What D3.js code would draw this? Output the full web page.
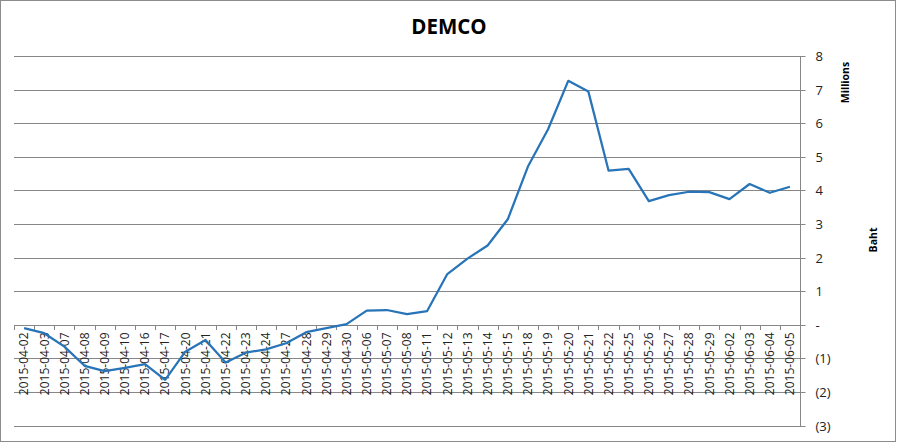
<!DOCTYPE html>
<html>
<head>
<meta charset="utf-8">
<script src="https://cdn.jsdelivr.net/npm/d3@7"></script>
<style>
  html, body { margin: 0; padding: 0; background: #fff; }
  svg { display: block; }
</style>
</head>
<body>
<svg id="chart" width="897" height="442"></svg>
<script>
const title = "DEMCO";
const categories = [
  "2015-04-02","2015-04-03","2015-04-07","2015-04-08","2015-04-09","2015-04-10",
  "2015-04-16","2015-04-17","2015-04-20","2015-04-21","2015-04-22","2015-04-23",
  "2015-04-24","2015-04-27","2015-04-28","2015-04-29","2015-04-30","2015-05-06",
  "2015-05-07","2015-05-08","2015-05-11","2015-05-12","2015-05-13","2015-05-14",
  "2015-05-15","2015-05-18","2015-05-19","2015-05-20","2015-05-21","2015-05-22",
  "2015-05-25","2015-05-26","2015-05-27","2015-05-28","2015-05-29","2015-06-02",
  "2015-06-03","2015-06-04","2015-06-05"
];
// values in millions of Baht
const values = [
  -0.10, -0.25, -0.65, -1.22, -1.38, -1.28,
  -1.17, -1.64, -0.80, -0.45, -1.12, -0.83,
  -0.73, -0.55, -0.22, -0.10, 0.02, 0.42,
  0.44, 0.32, 0.41, 1.51, 1.97, 2.36,
  3.14, 4.71, 5.82, 7.26, 6.94, 4.59,
  4.64, 3.68, 3.86, 3.96, 3.95, 3.74,
  4.19, 3.93, 4.11
];
const yTicks = [-3, -2, -1, 0, 1, 2, 3, 4, 5, 6, 7, 8];
const yUnitLabel = "Millions";
const yAxisTitle = "Baht";

const svg = d3.select("#chart");
const gridColor = "#878787";
const lineColor = "#2874b8";

const plot = { left: 14, right: 800, top: 56, bottom: 425.6 };

// chart border
svg.append("rect")
  .attr("x", 0.5).attr("y", 0.5).attr("width", 895).attr("height", 441)
  .attr("fill", "#fff").attr("stroke", "#8c8c8c").attr("stroke-width", 1);

const x = d3.scaleBand().domain(categories).range([plot.left, plot.right]).padding(0);
const y = d3.scaleLinear().domain([d3.min(yTicks), d3.max(yTicks)]).range([plot.bottom, plot.top]);
const cx = d => x(d) + x.bandwidth() / 2;

// gridlines
svg.append("g")
  .selectAll("line")
  .data(yTicks)
  .join("line")
  .attr("x1", plot.left).attr("x2", plot.right)
  .attr("y1", d => Math.round(y(d)) + 0.5).attr("y2", d => Math.round(y(d)) + 0.5)
  .attr("stroke", gridColor).attr("stroke-width", 1);

// right axis
const fmt = v => v === 0 ? "-" : (v < 0 ? "(" + Math.abs(v) + ")" : String(v));
const yAxis = d3.axisRight(y).tickValues(yTicks).tickFormat(fmt).tickSize(5).tickPadding(10);
const gy = svg.append("g")
  .attr("transform", `translate(${plot.right + 0.5},0)`)
  .call(yAxis);
gy.select(".domain").attr("stroke", gridColor).attr("d", `M0,${Math.round(y(8))}V${Math.round(y(-3)) + 1}`);
gy.selectAll(".tick line").attr("stroke", gridColor)
  .attr("transform", function() { return "translate(0,0)"; });
gy.selectAll(".tick").attr("transform", d => `translate(0,${Math.round(y(d)) + 0.5})`);
gy.selectAll(".tick text")
  .attr("font-family", "'Open Sans', sans-serif")
  .attr("font-size", 13)
  .attr("fill", "#222");

// x axis at zero line
const zeroY = Math.round(y(0)) + 0.5;
const xAxis = d3.axisBottom(x).tickSize(0).tickPadding(0);
const gx = svg.append("g").attr("transform", `translate(0,${zeroY})`).call(xAxis);
gx.select(".domain").remove();
gx.selectAll(".tick text")
  .attr("font-family", "'Open Sans', sans-serif")
  .attr("font-size", 12)
  .attr("fill", "#222")
  .attr("text-anchor", "end")
  .attr("transform", "translate(0,7) rotate(-90)")
  .attr("x", 0).attr("y", 0).attr("dy", "0.36em");
// category boundary ticks
const edges = categories.map(c => x(c)).concat([plot.right]);
svg.append("g")
  .selectAll("line")
  .data(edges)
  .join("line")
  .attr("x1", d => Math.round(d) + 0.5).attr("x2", d => Math.round(d) + 0.5)
  .attr("y1", zeroY).attr("y2", zeroY + 4.5)
  .attr("stroke", gridColor).attr("stroke-width", 1);

// line
const line = d3.line()
  .x((d, i) => cx(categories[i]))
  .y(d => y(d));
svg.append("path")
  .datum(values)
  .attr("d", line)
  .attr("fill", "none")
  .attr("stroke", lineColor)
  .attr("stroke-width", 2.25)
  .attr("stroke-linejoin", "round");

// title
svg.append("text")
  .attr("x", 449).attr("y", 34)
  .attr("text-anchor", "middle")
  .attr("font-family", "'Open Sans', sans-serif")
  .attr("font-weight", "bold")
  .attr("font-size", 20.5)
  .attr("fill", "#000")
  .text(title);

// unit label
svg.append("text")
  .attr("transform", "translate(845,82.5) rotate(-90)")
  .attr("text-anchor", "middle").attr("dy", "0.35em")
  .attr("font-family", "'Open Sans', sans-serif")
  .attr("font-weight", "bold")
  .attr("font-size", 10.5)
  .attr("fill", "#000")
  .text(yUnitLabel);

// axis title
svg.append("text")
  .attr("transform", "translate(873,240) rotate(-90)")
  .attr("text-anchor", "middle").attr("dy", "0.35em")
  .attr("font-family", "'Open Sans', sans-serif")
  .attr("font-weight", "bold")
  .attr("font-size", 10.5)
  .attr("fill", "#000")
  .text(yAxisTitle);
</script>
</body>
</html>
